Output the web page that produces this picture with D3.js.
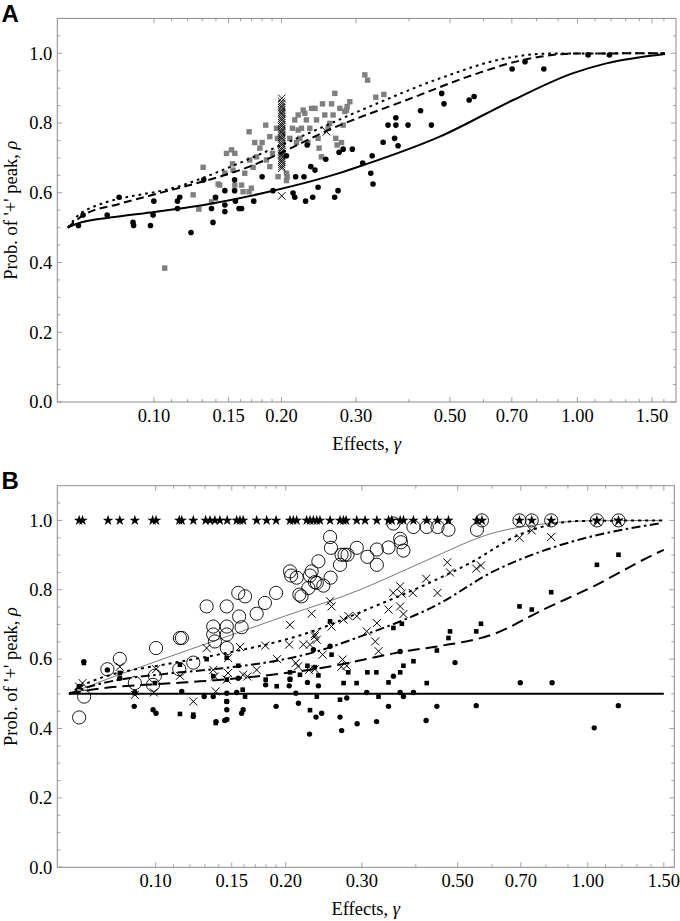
<!DOCTYPE html>
<html><head><meta charset="utf-8">
<script src="https://cdn.jsdelivr.net/npm/d3@7/dist/d3.min.js"></script>
<style>
html,body{margin:0;padding:0;background:#fff;}
svg{display:block;}
text{font-family:"Liberation Serif","Times New Roman",serif;fill:#000;}
</style></head>
<body>
<script>
// ---------- axis ticks ----------
const xMajor = [0.1, 0.15, 0.2, 0.3, 0.5, 0.7, 1.0, 1.5];
const xMajorLabels = ["0.10", "0.15", "0.20", "0.30", "0.50", "0.70", "1.00", "1.50"];
const xMinor = [0.11, 0.12, 0.13, 0.14, 0.16, 0.17, 0.18, 0.19, 0.4, 0.6, 0.8, 0.9, 1.1, 1.2, 1.3, 1.4, 1.6];
const yMajor = [0, 0.2, 0.4, 0.6, 0.8, 1.0];
const yMajorLabels = ["0.0", "0.2", "0.4", "0.6", "0.8", "1.0"];
const yMinor = [0.05, 0.1, 0.15, 0.25, 0.3, 0.35, 0.45, 0.5, 0.55, 0.65, 0.7, 0.75, 0.85, 0.9, 0.95, 1.05];

// ---------- panel A data ----------
const aDots = [[0.0663,0.506],[0.068,0.536],[0.0775,0.536],[0.0827,0.587],[0.0892,0.515],[0.0895,0.506],[0.0981,0.506],[0.0995,0.536],[0.0999,0.576],[0.1136,0.555],[0.1136,0.576],[0.115,0.587],[0.1223,0.486],[0.131,0.637],[0.1367,0.555],[0.1378,0.515],[0.1397,0.587],[0.147,0.565],[0.147,0.546],[0.147,0.606],[0.155,0.637],[0.155,0.606],[0.1557,0.576],[0.1588,0.555],[0.161,0.555],[0.172,0.576],[0.18,0.646],[0.191,0.606],[0.2055,0.706],[0.213,0.599],[0.215,0.587],[0.216,0.646],[0.226,0.646],[0.228,0.576],[0.23,0.737],[0.2346,0.675],[0.24,0.665],[0.237,0.587],[0.244,0.616],[0.2545,0.696],[0.267,0.587],[0.272,0.606],[0.2736,0.716],[0.2797,0.725],[0.294,0.725],[0.311,0.685],[0.325,0.656],[0.3275,0.706],[0.329,0.625],[0.3476,0.745],[0.357,0.794],[0.37,0.756],[0.3725,0.815],[0.3725,0.794],[0.377,0.735],[0.398,0.794],[0.426,0.835],[0.452,0.794],[0.478,0.885],[0.484,0.855],[0.555,0.866],[0.57,0.876],[0.701,0.955],[0.752,0.976],[0.833,0.955],[1.06,0.995],[1.19,0.995]];
const aSquares = [[0.106,0.384],[0.1237,0.594],[0.1276,0.553],[0.1306,0.673],[0.1367,0.574],[0.1397,0.584],[0.1417,0.625],[0.143,0.622],[0.147,0.656],[0.1483,0.713],[0.1524,0.723],[0.1532,0.683],[0.1537,0.665],[0.1552,0.622],[0.1552,0.713],[0.161,0.622],[0.1623,0.603],[0.1638,0.656],[0.1677,0.775],[0.1677,0.603],[0.1683,0.694],[0.1698,0.613],[0.1714,0.673],[0.173,0.744],[0.1746,0.703],[0.1778,0.728],[0.18,0.744],[0.1836,0.794],[0.1843,0.694],[0.1877,0.761],[0.1877,0.675],[0.1905,0.713],[0.1946,0.785],[0.1957,0.756],[0.1963,0.646],[0.2055,0.656],[0.2055,0.635],[0.2062,0.646],[0.2093,0.756],[0.2123,0.785],[0.215,0.809],[0.217,0.744],[0.219,0.823],[0.219,0.78],[0.221,0.756],[0.223,0.785],[0.225,0.837],[0.227,0.828],[0.229,0.809],[0.231,0.744],[0.2333,0.785],[0.2355,0.842],[0.24,0.842],[0.242,0.809],[0.244,0.756],[0.2454,0.728],[0.2486,0.703],[0.25,0.855],[0.2531,0.823],[0.2577,0.785],[0.26,0.799],[0.2626,0.855],[0.2648,0.823],[0.2673,0.885],[0.2687,0.756],[0.2707,0.737],[0.2747,0.842],[0.2772,0.744],[0.2797,0.794],[0.2822,0.833],[0.2848,0.837],[0.2859,0.847],[0.29,0.861],[0.3147,0.938],[0.3194,0.923],[0.334,0.874],[0.349,0.882]];
const aCrossGamma = 0.2003;
const aCrossColumn = [0.670,0.675,0.681,0.688,0.693,0.699,0.706,0.711,0.717,0.724,0.729,0.736,0.741,0.747,0.754,0.759,0.765,0.772,0.777,0.783,0.790,0.795,0.801,0.808,0.813,0.819,0.826,0.831,0.837,0.844,0.849,0.856,0.862,0.871];
const aCrossOther = [[0.2003,0.591],[0.2555,0.775]];
const aSolid = [[0.0626,0.5],[0.0663,0.513],[0.0815,0.531],[0.1,0.545],[0.135,0.568],[0.19,0.605],[0.275,0.657],[0.31,0.678],[0.473,0.761],[0.705,0.866],[0.977,0.943],[1.17,0.971],[1.61,0.998]];
const aDashed = [[0.0626,0.5],[0.068,0.535],[0.0827,0.568],[0.098,0.592],[0.168,0.675],[0.275,0.794],[0.395,0.866],[0.567,0.938],[0.745,0.981],[0.977,0.999],[1.61,1.0]];
const aDotted = [[0.0626,0.5],[0.068,0.546],[0.117,0.622],[0.2,0.737],[0.32,0.845],[0.473,0.928],[0.68,0.986],[0.85,0.999],[1.61,1.0]];

// ---------- panel B data ----------
const bStars = [0.0665,0.0677,0.0776,0.0826,0.0895,0.0984,0.1002,0.1134,0.1149,0.1222,0.1305,0.1336,0.1371,0.1408,0.1464,0.154,0.1567,0.1594,0.1713,0.1807,0.19,0.2046,0.2082,0.212,0.2236,0.2276,0.2317,0.236,0.24,0.2533,0.2671,0.272,0.2758,0.292,0.3052,0.325,0.3458,0.352,0.368,0.3745,0.395,0.424,0.449,0.476,0.554,0.569,0.695,0.742,0.823,1.05,1.178];
const bCircles = [[0.0665,0.432],[0.0683,0.492],[0.0773,0.571],[0.0826,0.601],[0.0895,0.531],[0.0996,0.552],[0.0986,0.526],[0.1002,0.632],[0.1134,0.571],[0.1138,0.661],[0.115,0.661],[0.1222,0.59],[0.1312,0.752],[0.1359,0.694],[0.1359,0.671],[0.1371,0.651],[0.146,0.752],[0.1461,0.694],[0.1461,0.671],[0.1461,0.632],[0.1553,0.791],[0.161,0.781],[0.156,0.723],[0.1581,0.692],[0.1713,0.731],[0.179,0.762],[0.19,0.791],[0.2046,0.853],[0.2058,0.841],[0.212,0.835],[0.215,0.786],[0.2175,0.781],[0.2256,0.805],[0.2276,0.841],[0.2296,0.853],[0.2335,0.822],[0.236,0.82],[0.238,0.882],[0.2444,0.812],[0.2533,0.952],[0.2545,0.921],[0.254,0.835],[0.2671,0.872],[0.2693,0.901],[0.2736,0.901],[0.278,0.901],[0.292,0.921],[0.309,0.895],[0.325,0.916],[0.325,0.872],[0.3458,0.922],[0.368,0.947],[0.3695,0.937],[0.3745,0.913],[0.355,0.991],[0.395,0.981],[0.424,0.981],[0.449,0.981],[0.476,0.973],[0.554,0.973],[0.569,1.0],[0.695,1.0],[0.742,1.0],[0.823,1.0],[1.05,1.0],[1.178,1.0]];
const bCrosses = [[0.0665,0.521],[0.0677,0.531],[0.0826,0.578],[0.0895,0.497],[0.099,0.504],[0.1002,0.571],[0.1138,0.552],[0.1222,0.478],[0.1312,0.632],[0.1359,0.569],[0.1377,0.507],[0.1371,0.55],[0.1471,0.603],[0.1471,0.56],[0.146,0.541],[0.1567,0.635],[0.1594,0.555],[0.163,0.55],[0.1713,0.569],[0.1793,0.639],[0.191,0.6],[0.2037,0.642],[0.211,0.589],[0.2135,0.579],[0.2196,0.642],[0.2276,0.642],[0.2265,0.569],[0.2335,0.571],[0.2335,0.666],[0.236,0.656],[0.2434,0.613],[0.2708,0.599],[0.269,0.578],[0.2769,0.581],[0.2046,0.699],[0.2296,0.731],[0.2335,0.672],[0.2533,0.767],[0.2553,0.752],[0.2553,0.694],[0.272,0.714],[0.2795,0.724],[0.292,0.724],[0.308,0.68],[0.325,0.704],[0.3222,0.651],[0.328,0.623],[0.3458,0.743],[0.3547,0.791],[0.368,0.81],[0.371,0.789],[0.368,0.752],[0.3745,0.73],[0.3935,0.791],[0.4226,0.832],[0.449,0.791],[0.473,0.879],[0.48,0.85],[0.552,0.861],[0.566,0.87],[0.695,0.95],[0.742,0.971],[0.823,0.952],[1.054,0.995],[1.178,0.995]];
const bSquares = [[0.0682,0.589],[0.0826,0.56],[0.0895,0.502],[0.0996,0.531],[0.1138,0.584],[0.1138,0.442],[0.1222,0.44],[0.1312,0.6],[0.1359,0.551],[0.1377,0.416],[0.146,0.604],[0.1461,0.541],[0.146,0.478],[0.1553,0.581],[0.161,0.492],[0.159,0.512],[0.1797,0.541],[0.1906,0.522],[0.2046,0.562],[0.2046,0.541],[0.2157,0.555],[0.2245,0.581],[0.2335,0.577],[0.238,0.553],[0.236,0.492],[0.2276,0.453],[0.2533,0.709],[0.2553,0.613],[0.2671,0.483],[0.2722,0.531],[0.279,0.562],[0.2918,0.531],[0.309,0.562],[0.3242,0.562],[0.3279,0.492],[0.3458,0.533],[0.355,0.69],[0.3713,0.702],[0.368,0.562],[0.3745,0.581],[0.395,0.594],[0.424,0.531],[0.4475,0.625],[0.476,0.661],[0.48,0.68],[0.552,0.68],[0.566,0.702],[0.695,0.752],[0.742,0.743],[0.823,0.793],[1.05,0.872],[1.178,0.901]];
const bDots = [[0.0665,0.521],[0.0682,0.593],[0.0773,0.569],[0.0826,0.545],[0.0892,0.464],[0.0895,0.504],[0.0986,0.454],[0.1002,0.444],[0.1149,0.507],[0.1222,0.435],[0.1295,0.492],[0.1359,0.492],[0.138,0.42],[0.1461,0.454],[0.1461,0.426],[0.1461,0.478],[0.1461,0.502],[0.1445,0.423],[0.154,0.504],[0.1553,0.545],[0.1581,0.444],[0.1594,0.454],[0.1797,0.526],[0.19,0.464],[0.2046,0.543],[0.2037,0.523],[0.211,0.502],[0.214,0.473],[0.2245,0.533],[0.227,0.384],[0.2317,0.627],[0.235,0.433],[0.2422,0.444],[0.238,0.523],[0.2533,0.637],[0.2671,0.433],[0.2694,0.394],[0.2769,0.488],[0.2926,0.414],[0.308,0.504],[0.3245,0.42],[0.3458,0.464],[0.355,0.551],[0.368,0.622],[0.368,0.504],[0.3745,0.492],[0.395,0.504],[0.4226,0.423],[0.4475,0.464],[0.493,0.59],[0.552,0.466],[0.698,0.532],[0.827,0.532],[1.035,0.402],[1.177,0.466]];
const bFlat = [[0.063,0.5],[1.5,0.5]];
const bThin = [[0.063,0.5],[0.0826,0.556],[0.092,0.577],[0.1384,0.655],[0.2,0.725],[0.297,0.8],[0.3365,0.829],[0.424,0.885],[0.605,0.964],[0.804,0.991],[1.03,0.999],[1.49,1.0]];
const bDotted = [[0.063,0.5],[0.068,0.525],[0.1098,0.589],[0.1266,0.603],[0.24,0.688],[0.297,0.735],[0.43,0.82],[0.534,0.877],[0.698,0.96],[0.804,0.985],[0.944,0.998],[1.5,1.0]];
const bDashDot = [[0.063,0.5],[0.068,0.515],[0.1098,0.56],[0.1266,0.567],[0.24,0.625],[0.297,0.665],[0.45,0.758],[0.605,0.853],[0.804,0.916],[1.03,0.955],[1.46,0.991]];
const bLongDash = [[0.063,0.5],[0.068,0.508],[0.1098,0.531],[0.1266,0.536],[0.24,0.574],[0.388,0.625],[0.455,0.638],[0.605,0.672],[0.79,0.743],[1.031,0.81],[1.446,0.906],[1.5,0.915]];

// ---------- drawing ----------
const W = 680, H = 921;
const svg = d3.select("body").append("svg").attr("width", W).attr("height", H);
const FRAME = "#8a8a8a";

function panel(opt) {
  const x = d3.scaleLog().domain(opt.xDomain).range([opt.left, opt.right]);
  const y = d3.scaleLinear().domain([0, 1.1]).range([opt.bottom, opt.top]);
  const g = svg.append("g");
  // frame
  g.append("rect").attr("x", opt.left).attr("y", opt.top)
    .attr("width", opt.right - opt.left).attr("height", opt.bottom - opt.top)
    .attr("fill", "none").attr("stroke", FRAME).attr("stroke-width", 1);
  const tk = g.append("g").attr("stroke", FRAME).attr("stroke-width", 0.8);
  const xs = d3.range(0);
  const [d0, d1] = x.domain();
  xMajor.concat(xMinor).filter(v => v > d0 && v < d1).forEach(v => {
    const len = xMajor.includes(v) ? 5 : 3;
    tk.append("line").attr("x1", x(v)).attr("x2", x(v)).attr("y1", opt.bottom).attr("y2", opt.bottom - len);
    tk.append("line").attr("x1", x(v)).attr("x2", x(v)).attr("y1", opt.top).attr("y2", opt.top + len);
  });
  yMajor.concat(yMinor).forEach(v => {
    const len = yMajor.includes(v) ? 5 : 3;
    tk.append("line").attr("y1", y(v)).attr("y2", y(v)).attr("x1", opt.left).attr("x2", opt.left + len);
    tk.append("line").attr("y1", y(v)).attr("y2", y(v)).attr("x1", opt.right).attr("x2", opt.right - len);
  });
  // tick labels
  xMajor.forEach((v, i) => {
    g.append("text").attr("x", x(v)).attr("y", opt.bottom + 20)
      .attr("text-anchor", "middle").attr("font-size", 18.5).text(xMajorLabels[i]);
  });
  yMajor.forEach((v, i) => {
    g.append("text").attr("x", opt.left - 5).attr("y", y(v) + 6.3)
      .attr("text-anchor", "end").attr("font-size", 18.5).text(yMajorLabels[i]);
  });
  // axis titles
  const xt = g.append("text").attr("x", (opt.left + opt.right) / 2).attr("y", opt.bottom + 48)
    .attr("text-anchor", "middle").attr("font-size", 18.5);
  xt.append("tspan").text("Effects, ");
  xt.append("tspan").attr("font-style", "italic").text("γ");
  const cy = (opt.top + opt.bottom) / 2;
  const yt = g.append("text").attr("transform", `translate(17,${cy}) rotate(-90)`)
    .attr("text-anchor", "middle").attr("font-size", 18.5);
  yt.append("tspan").text("Prob. of '+' peak, ");
  yt.append("tspan").attr("font-style", "italic").text("ρ");
  // panel letter
  g.append("text").attr("x", 1.5).attr("y", opt.top + 3.4)
    .style("font-family", "'Liberation Sans',Arial,sans-serif").attr("font-weight", "bold")
    .attr("font-size", 24).text(opt.letter);
  const plot = g.append("g");
  return {x, y, g: plot};
}

function line(p, data, dash, width, color) {
  const gen = d3.line().x(d => p.x(d[0])).y(d => p.y(d[1])).curve(d3.curveMonotoneX);
  p.g.append("path").attr("d", gen(data)).attr("fill", "none")
    .attr("stroke", color || "#000").attr("stroke-width", width)
    .attr("stroke-dasharray", dash || null).attr("stroke-linecap", "butt");
}
function dots(p, data, r) {
  p.g.append("g").selectAll("circle").data(data).join("circle")
    .attr("cx", d => p.x(d[0])).attr("cy", d => p.y(d[1])).attr("r", r).attr("fill", "#000");
}
function squares(p, data, s, color) {
  p.g.append("g").selectAll("rect").data(data).join("rect")
    .attr("x", d => p.x(d[0]) - s / 2).attr("y", d => p.y(d[1]) - s / 2)
    .attr("width", s).attr("height", s).attr("fill", color);
}
function crosses(p, data, h, w) {
  p.g.append("g").selectAll("path").data(data).join("path")
    .attr("d", d => {
      const cx = p.x(d[0]), cy = p.y(d[1]);
      return `M${cx - h},${cy - h}L${cx + h},${cy + h}M${cx - h},${cy + h}L${cx + h},${cy - h}`;
    })
    .attr("stroke", "#000").attr("stroke-width", w).attr("fill", "none");
}
function rings(p, data, r) {
  p.g.append("g").selectAll("circle").data(data).join("circle")
    .attr("cx", d => p.x(d[0])).attr("cy", d => p.y(d[1])).attr("r", r)
    .attr("fill", "none").attr("stroke", "#000").attr("stroke-width", 0.9);
}
function stars(p, data, size) {
  const sym = d3.symbol(d3.symbolStar).size(size);
  p.g.append("g").selectAll("path").data(data).join("path")
    .attr("d", sym).attr("transform", d => `translate(${p.x(d)},${p.y(1.0)})`).attr("fill", "#000");
}

// Panel A
const A = panel({letter: "A", left: 57.3, right: 676, top: 18.4, bottom: 402, xDomain: [0.0591, 1.709]});
squares(A, aSquares, 5.4, "#7f7f7f");
dots(A, aDots, 2.8);
crosses(A, aCrossColumn.map(v => [aCrossGamma, v]), 3.6, 0.9);
crosses(A, aCrossOther, 3.8, 1);
line(A, aSolid, null, 2);
line(A, aDashed, "8,4.5", 2);
line(A, aDotted, "2.7,4", 2);

// Panel B
const B = panel({letter: "B", left: 57.3, right: 674.3, top: 485.7, bottom: 867.3, xDomain: [0.0592, 1.586]});
line(B, bFlat, null, 2);
line(B, bThin, null, 0.8, "#555");
line(B, bDotted, "3,4", 2);
line(B, bDashDot, "9,3.5,2.5,3.5", 2);
line(B, bLongDash, "12,6", 2);
dots(B, bDots, 2.7);
squares(B, bSquares, 4.6, "#000");
crosses(B, bCrosses, 4, 1);
rings(B, bCircles, 6.6);
stars(B, bStars, 36);
</script>
</body></html>
